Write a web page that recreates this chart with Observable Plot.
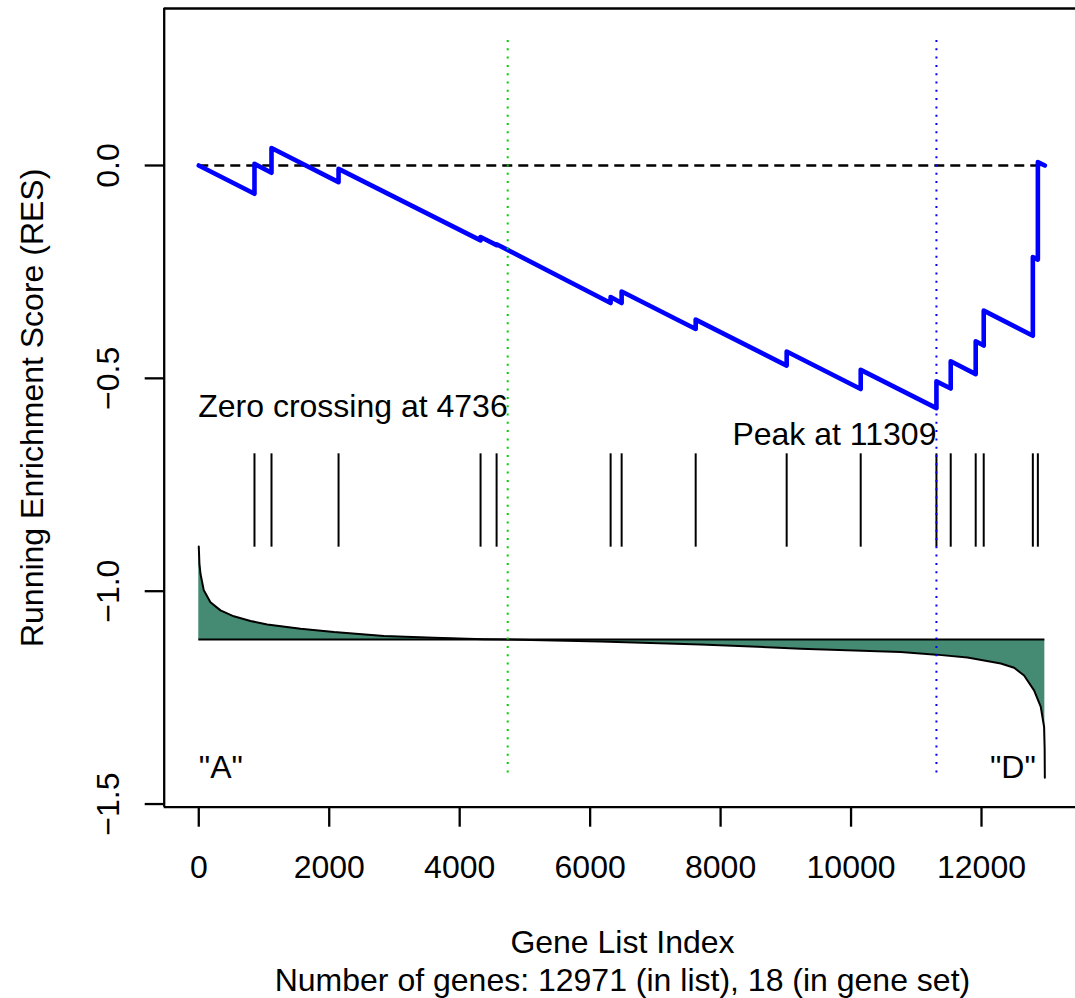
<!DOCTYPE html>
<html><head><meta charset="utf-8">
<script src="https://cdn.jsdelivr.net/npm/d3@7"></script>
<script src="https://cdn.jsdelivr.net/npm/@observablehq/plot@0.6"></script>
<style>body{margin:0;background:#fff}</style>
</head><body><div id="chart"></div>
<script>
// ---- data ----
const N = 12971;
const setSize = 18;
const zeroCrossing = 4736;
const peakIndex = 11309;
const phenotypes = ['"A"', '"D"'];

const hitIndex    = [854, 1115, 2143, 4320, 4566, 6314, 6483, 7618, 9013, 10148, 11309, 11528, 11911, 12034, 12787, 12864];
const esBeforeHit = [-0.0665, -0.017, -0.039, -0.176, -0.187, -0.323, -0.323, -0.384, -0.470, -0.525, -0.570, -0.524, -0.490, -0.423, -0.400, -0.221];
const esAfterHit  = [0.004, 0.041, -0.008, -0.168, -0.185, -0.309, -0.296, -0.362, -0.437, -0.480, -0.507, -0.460, -0.413, -0.341, -0.215, 0.008];
const esStart = 0;
const esEnd = 0;

const metricIndex = [0, 10, 26, 77, 179, 333, 537, 793, 1049, 1560, 2071, 2838, 3604, 4371, 4736, 6161, 7695, 9228, 10762, 11309, 11785, 12296, 12500, 12653, 12806, 12909, 12960, 12968, 12971];
const metricValue = [-0.895, -0.935, -0.959, -0.998, -1.026, -1.045, -1.059, -1.070, -1.078, -1.088, -1.096, -1.105, -1.1095, -1.113, -1.1135, -1.118, -1.125, -1.135, -1.143, -1.149, -1.156, -1.170, -1.180, -1.198, -1.233, -1.272, -1.319, -1.37, -1.438];
const metricBaseline = -1.1135;

const hitTickTop = -0.6773, hitTickBottom = -0.8966;
const markerTop = 0.2936, markerBottom = -1.4383;
const zeroLabelY = -0.5913, peakLabelY = -0.6554, phenLabelY = -1.4383;

const xTicks = [0, 2000, 4000, 6000, 8000, 10000, 12000];
const yTicks = [0, -0.5, -1.0, -1.5];
const yTickLabels = ["0.0", "\u22120.5", "\u22121.0", "\u22121.5"];
const xDomain = [-530, 13441];
const yDomain = [-1.5074, 0.3688];

const xTitle = "Gene List Index";
const yTitle = "Running Enrichment Score (RES)";
const subTitle = `Number of genes: ${N} (in list), ${setSize} (in gene set)`;

// ---- derived tables ----
const esPoints = [{i: 0, v: esStart}];
hitIndex.forEach((h, k) => { esPoints.push({i: h, v: esBeforeHit[k]}); esPoints.push({i: h, v: esAfterHit[k]}); });
esPoints.push({i: N, v: esEnd});
const metric = metricIndex.map((i, k) => ({i, v: metricValue[k]}));

const FS = 32;
const font = "Liberation Sans, Arial, Helvetica, sans-serif";
const LW = 2.3;

const chart = Plot.plot({
  width: 1075, height: 998,
  marginLeft: 163.7, marginRight: 0, marginTop: 8, marginBottom: 191.3,
  style: {fontFamily: font, fontSize: FS + "px", background: "#fff", color: "#000"},
  x: {domain: xDomain, label: null},
  y: {domain: yDomain, label: null},
  marks: [
    Plot.areaY(metric, {x: "i", y1: metricBaseline, y2: "v", fill: "#458B74"}),
    Plot.line(metric, {x: "i", y: "v", stroke: "#000", strokeWidth: 2}),
    Plot.ruleY([metricBaseline], {x1: 0, x2: N, stroke: "#000", strokeWidth: 2}),
    Plot.ruleX(hitIndex, {y1: hitTickTop, y2: hitTickBottom, stroke: "#000", strokeWidth: 2}),
    Plot.ruleY([0], {x1: 0, x2: N, stroke: "#000", strokeWidth: LW, strokeDasharray: "10,6"}),
    Plot.line(esPoints, {x: "i", y: "v", stroke: "#0000FF", strokeWidth: 4.6, strokeLinejoin: "round"}),
    Plot.ruleX([zeroCrossing], {y1: markerTop, y2: markerBottom, stroke: "#00CD00", strokeWidth: 2, strokeDasharray: "2,6.3"}),
    Plot.ruleX([peakIndex], {y1: markerTop, y2: markerBottom, stroke: "#0000FF", strokeWidth: 2, strokeDasharray: "2,6.3"}),
    Plot.text([`Zero crossing at ${zeroCrossing}`], {x: zeroCrossing, y: zeroLabelY, text: d => d, textAnchor: "end", lineAnchor: "bottom", fontSize: FS, fill: "#000"}),
    Plot.text([`Peak at ${peakIndex}`], {x: peakIndex, y: peakLabelY, text: d => d, textAnchor: "end", lineAnchor: "bottom", fontSize: FS, fill: "#000"}),
    Plot.text([phenotypes[0]], {x: 1, y: phenLabelY, text: d => d, textAnchor: "start", lineAnchor: "bottom", fontSize: FS, fill: "#000"}),
    Plot.text([phenotypes[1]], {x: N, y: phenLabelY, text: d => d, textAnchor: "end", lineAnchor: "bottom", dx: -9, fontSize: FS, fill: "#000"}),
    Plot.axisX(xTicks, {tickSize: 20, tickPadding: 28, strokeWidth: LW, fontSize: FS, label: null, tickFormat: d => String(d)}),
    Plot.axisY(yTicks, {tickSize: 19, tickPadding: 26.7, tickRotate: -90, strokeWidth: LW, fontSize: FS, label: null, tickFormat: d => yTickLabels[yTicks.indexOf(d)]}),
    Plot.ruleY([yDomain[1], yDomain[0]], {stroke: "#000", strokeWidth: LW}),
    Plot.ruleX([xDomain[0]], {stroke: "#000", strokeWidth: LW}),
    Plot.text([xTitle], {frameAnchor: "bottom", dy: 145.9, dx: 2.6, lineAnchor: "bottom", text: d => d, fontSize: FS, fill: "#000"}),
    Plot.text([subTitle], {frameAnchor: "bottom", dy: 183.5, dx: 2.6, lineAnchor: "bottom", text: d => d, fontSize: FS, fill: "#000"}),
    Plot.text([yTitle], {frameAnchor: "left", dx: -120.9, rotate: -90, lineAnchor: "bottom", textAnchor: "middle", text: d => d, fontSize: FS, fill: "#000"})
  ]
});
document.getElementById("chart").appendChild(chart);
</script>
</body></html>
